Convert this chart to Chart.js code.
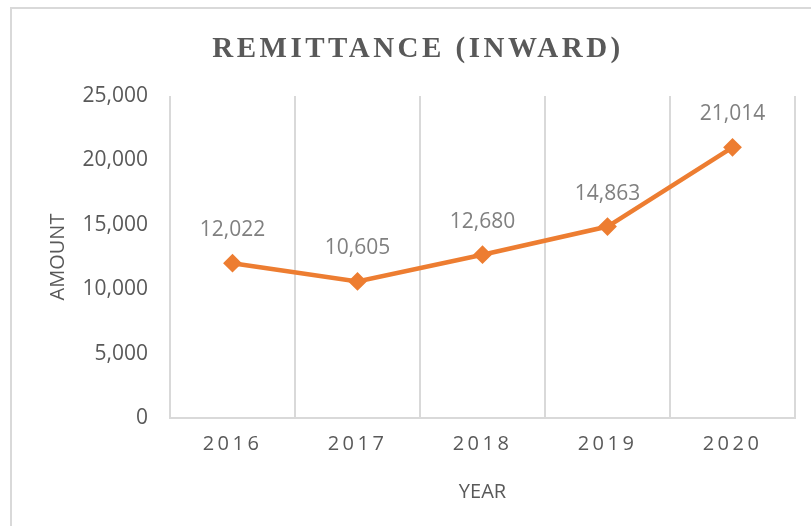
<!DOCTYPE html>
<html>
<head>
<meta charset="utf-8">
<script src="https://cdn.jsdelivr.net/npm/chart.js@4.4.1/dist/chart.umd.min.js"></script>
<style>
  html, body { margin: 0; padding: 0; background: #fff; overflow: hidden; }
  #wrap { position: relative; width: 811px; height: 526px; }
  #frame { position: absolute; left: 10px; top: 7px; width: 900px; height: 600px;
           border-left: 2px solid #d9d9d9; border-top: 2px solid #d9d9d9; }
  canvas { position: absolute; left: 0; top: 0; }
</style>
</head>
<body>
<div id="wrap">
  <div id="frame"></div>
  <canvas id="remitChart" width="811" height="526"></canvas>
</div>
<script>
// datos del grafico
const years = ['2016', '2017', '2018', '2019', '2020'];
const amounts = [12022, 10605, 12680, 14863, 21014];
const yTicks = [0, 5000, 10000, 15000, 20000, 25000];

const chartTitle = 'REMITTANCE (INWARD)';
const lineColor = '#ED7D31';
const gridColor = '#d9d9d9';
const textColor = '#595959';
const fmt = v => Number(v).toLocaleString('en-US');

// titulo con espaciado entre letras
const titlePlugin = {
    id: 'spacedTitle',
    afterDraw(chart) {
        const ctx = chart.ctx;
        ctx.save();
        ctx.font = 'bold 29px "Liberation Serif"';
        ctx.fillStyle = textColor;
        ctx.letterSpacing = '3.5px';
        ctx.textAlign = 'center';
        ctx.textBaseline = 'alphabetic';
        ctx.fillText(chartTitle, 418, 57);
        ctx.restore();
    }
};

// etiquetas de datos encima de cada punto
const labelPlugin = {
    id: 'pointLabels',
    afterDatasetsDraw(chart) {
        const ctx = chart.ctx;
        const meta = chart.getDatasetMeta(0);
        ctx.save();
        ctx.font = '21px "Open Sans"';
        ctx.fillStyle = '#808080';
        ctx.textAlign = 'center';
        ctx.textBaseline = 'middle';
        meta.data.forEach((pt, i) => {
            ctx.fillText(fmt(amounts[i]), pt.x, pt.y - 33);
        });
        ctx.restore();
    }
};

// letras del eje X separadas
const spacedTicks = {
    id: 'spacedTicks',
    beforeDraw(chart) {
        const xs = chart.scales.x;
        if (xs && !xs._spaced) {
            const orig = xs.drawLabels.bind(xs);
            xs.drawLabels = function(area) {
                const c = chart.ctx;
                c.save();
                c.letterSpacing = '3.5px';
                orig(area);
                c.restore();
            };
            xs._spaced = true;
        }
    }
};

new Chart(document.getElementById('remitChart'), {
    type: 'line',
    data: {
        labels: years,
        datasets: [{
            label: 'Amount',
            data: amounts,
            borderColor: lineColor,
            backgroundColor: lineColor,
            borderWidth: 4.5,
            pointStyle: 'rectRot',
            pointRadius: 8,
            pointBorderWidth: 2,
            pointBackgroundColor: lineColor,
            pointBorderColor: lineColor,
            tension: 0,
            fill: false
        }]
    },
    options: {
        responsive: false,
        animation: false,
        layout: { padding: { top: 96, right: 16, bottom: 0, left: 0 } },
        plugins: {
            legend: { display: false },
            title: { display: false },
            tooltip: { enabled: false }
        },
        scales: {
            x: {
                offset: true,
                grid: { display: true, offset: true, color: gridColor, lineWidth: 2, drawTicks: false },
                border: { display: true, color: gridColor, width: 2 },
                ticks: { color: textColor, font: { family: 'Open Sans', size: 20 }, padding: 14 },
                title: { display: true, text: 'YEAR', color: textColor,
                         font: { family: 'Open Sans', size: 20 }, padding: { top: 0, bottom: 22 } },
                afterFit(scale) { scale.height = 108; }
            },
            y: {
                min: 0,
                max: 25000,
                afterBuildTicks(scale) { scale.ticks = yTicks.map(v => ({ value: v })); },
                grid: { display: false, drawTicks: false },
                border: { display: false },
                ticks: { color: textColor, font: { family: 'Open Sans', size: 21 }, padding: 22,
                         callback: v => fmt(v) },
                title: { display: true, text: 'AMOUNT', color: textColor,
                         font: { family: 'Open Sans', size: 20 }, padding: { top: 46, bottom: 0 } },
                afterFit(scale) { scale.width = 170; }
            }
        }
    },
    plugins: [titlePlugin, labelPlugin, spacedTicks]
});
</script>
</body>
</html>
